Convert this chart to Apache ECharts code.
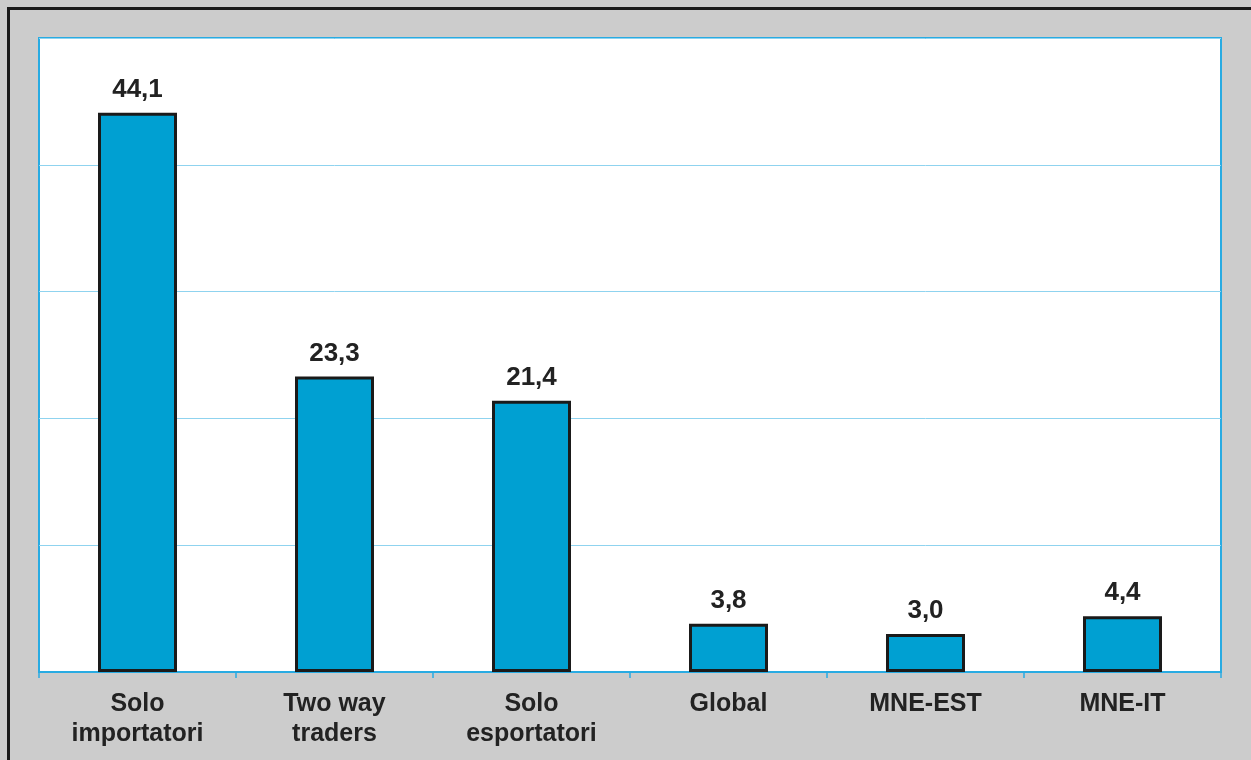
<!DOCTYPE html>
<html><head><meta charset="utf-8">
<script src="https://cdn.jsdelivr.net/npm/echarts@6/dist/echarts.min.js"></script>
<style>html,body{margin:0;padding:0;background:#cccccc}#c{width:1251px;height:760px}</style>
</head><body><div id="c"></div>
<script>
const categories = ['Solo\nimportatori', 'Two way\ntraders', 'Solo\nesportatori', 'Global', 'MNE-EST', 'MNE-IT'];
const values = [44.1, 23.3, 21.4, 3.8, 3.0, 4.4];
const chart = echarts.init(document.getElementById('c'), null, {renderer: 'canvas'});
chart.setOption({
  backgroundColor: '#cccccc',
  animation: false,
  graphic: [{
    type: 'rect', left: 6, top: 6, z: -10,
    shape: {x: 0, y: 0, width: 1260, height: 770},
    style: {fill: 'none', stroke: '#1a1a1a', lineWidth: 3}
  }],
  grid: {left: 39, right: 30, top: 38, bottom: 88, show: true, backgroundColor: '#ffffff', borderColor: '#29abe2', borderWidth: 2},
  xAxis: {
    type: 'category', data: categories,
    axisLine: {lineStyle: {color: '#29abe2', width: 2}},
    axisTick: {show: true, length: 6, lineStyle: {color: '#29abe2', width: 1.5}},
    axisLabel: {color: '#222222', fontFamily: 'Liberation Sans, Arial, sans-serif', fontWeight: 'bold', fontSize: 25, lineHeight: 30, margin: 17}
  },
  yAxis: {
    type: 'value', min: 0, max: 50, interval: 10,
    axisLabel: {show: false}, axisLine: {show: false}, axisTick: {show: false},
    splitLine: {lineStyle: {color: '#8fd3ef', width: 1}}
  },
  series: [{
    type: 'bar', data: values, barWidth: 79,
    itemStyle: {color: '#00a0d2', borderColor: '#1a1a1a', borderWidth: 3},
    label: {show: true, position: 'top', distance: 10, color: '#222222', fontFamily: 'Liberation Sans, Arial, sans-serif', fontWeight: 'bold', fontSize: 26,
      formatter: p => p.value.toFixed(1).replace('.', ',')}
  }]
});
</script></body></html>
